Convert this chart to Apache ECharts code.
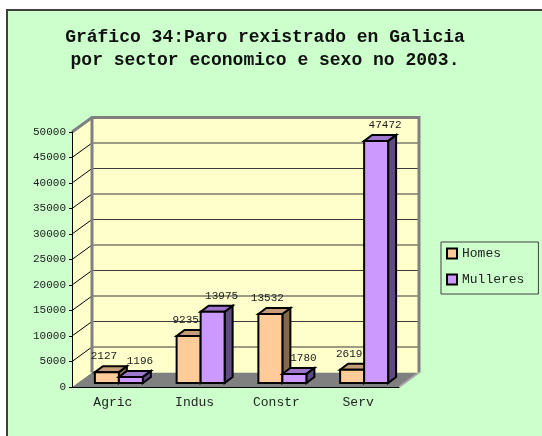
<!DOCTYPE html>
<html>
<head>
<meta charset="utf-8">
<script src="https://cdn.jsdelivr.net/npm/echarts@6/dist/echarts.min.js"></script>
<style>
  html, body { margin: 0; padding: 0; background: #ffffff; }
  #chart { width: 542px; height: 436px; }
</style>
</head>
<body>
<div id="chart"></div>
<script>
// Paro rexistrado en Galicia por sector e sexo, 2003
const categories = ['Agric', 'Indus', 'Constr', 'Serv'];
const homes = [2127, 9235, 13532, 2619];
const mulleres = [1196, 13975, 1780, 47472];
const valueTicks = [0, 5000, 10000, 15000, 20000, 25000, 30000, 35000, 40000, 45000, 50000];

const titleLines = ['Gráfico 34:Paro rexistrado en Galicia', 'por sector economico e sexo no 2003.'];

// oblique 3D look: depth of the box, and where the bars sit inside it
const DEPTH = { dx: 20, dy: -14.5 };
const BAR_FRONT = { dx: 6, dy: -4 };
const BAR_DEPTH = { dx: 8, dy: -6 };
const BAR_W = 24;

const MONO = '"Liberation Mono", "DejaVu Sans Mono", monospace';

const palette = {
  homes: { front: '#FFCC99', top: '#C49E78', side: '#86694C' },
  mulleres: { front: '#CC99FF', top: '#9E76CC', side: '#5F4A82' }
};

function wallsRender(params, api) {
  const cs = params.coordSys;
  const x0 = cs.x, x1 = cs.x + cs.width, yT = cs.y, yB = cs.y + cs.height;
  const dx = DEPTH.dx, dy = DEPTH.dy;
  const kids = [];
  kids.push({ type: 'polygon', shape: { points: [[x0, yB], [x1, yB], [x1 + dx, yB + dy], [x0 + dx, yB + dy]] },
    style: { fill: '#808080' } });
  kids.push({ type: 'line', shape: { x1: x1, y1: yB, x2: x1 + dx, y2: yB + dy },
    style: { stroke: '#A8A8A8', lineWidth: 2 } });
  kids.push({ type: 'polygon', shape: { points: [[x0, yB], [x0, yT], [x0 + dx, yT + dy], [x0 + dx, yB + dy]] },
    style: { fill: '#FFFFCC' } });
  kids.push({ type: 'rect', shape: { x: x0 + dx, y: yT + dy, width: cs.width, height: cs.height },
    style: { fill: '#FFFFCC' } });
  valueTicks.slice(1, -1).forEach(function (v) {
    const y = api.coord([0, v])[1];
    kids.push({ type: 'line', shape: { x1: x0 + dx, y1: y + dy, x2: x1 + dx, y2: y + dy },
      style: { stroke: '#3a3a3a', lineWidth: 1 } });
    kids.push({ type: 'line', shape: { x1: x0, y1: y, x2: x0 + dx, y2: y + dy },
      style: { stroke: '#000000', lineWidth: 1 } });
  });
  kids.push({ type: 'polyline', shape: { points: [[x0, yT], [x0 + dx, yT + dy], [x1 + dx, yT + dy], [x1 + dx, yB + dy]] },
    style: { stroke: '#808080', lineWidth: 3, fill: null } });
  kids.push({ type: 'line', shape: { x1: x0 + dx, y1: yT + dy, x2: x0 + dx, y2: yB + dy },
    style: { stroke: '#808080', lineWidth: 3 } });
  return { type: 'group', children: kids };
}

function barRenderer(colors, slot, labelDx) {
  return function (params, api) {
    const c = api.value(0), v = api.value(1);
    const base = api.coord([c, 0]);
    const top = api.coord([c, v]);
    const left = base[0] + BAR_FRONT.dx + slot * BAR_W;
    const right = left + BAR_W;
    const yb = base[1] + BAR_FRONT.dy;
    const yt = top[1] + BAR_FRONT.dy;
    const ddx = BAR_DEPTH.dx, ddy = BAR_DEPTH.dy;
    const edge = { stroke: '#000000', lineWidth: 2, lineJoin: 'miter' };
    return {
      type: 'group',
      children: [
        { type: 'polygon', shape: { points: [[right, yt], [right + ddx, yt + ddy], [right + ddx, yb + ddy], [right, yb]] },
          style: Object.assign({ fill: colors.side }, edge) },
        { type: 'polygon', shape: { points: [[left, yt], [right, yt], [right + ddx, yt + ddy], [left + ddx, yt + ddy]] },
          style: Object.assign({ fill: colors.top }, edge) },
        { type: 'rect', shape: { x: left, y: yt, width: BAR_W, height: yb - yt },
          style: Object.assign({ fill: colors.front }, edge) },
        { type: 'text', x: left + BAR_W / 2 + labelDx, y: yt - 16,
          style: { text: String(v), font: '11px ' + MONO, fill: '#222222', align: 'center', verticalAlign: 'middle' } }
      ]
    };
  };
}

const chart = echarts.init(document.getElementById('chart'), null, { renderer: 'canvas' });

chart.setOption({
  animation: false,
  backgroundColor: '#ffffff',
  graphic: [
    { type: 'rect', z: -10, shape: { x: 7, y: 10, width: 600, height: 500 },
      style: { fill: '#CCFFCC', stroke: '#404040', lineWidth: 2 } },
    { type: 'text', z: 10, x: 265, y: 26,
      style: { text: titleLines.join('\n'), font: 'bold 18px ' + MONO, lineHeight: 23,
        fill: '#111111', align: 'center', verticalAlign: 'top' } }
  ],
  legend: {
    orient: 'vertical',
    left: 441, top: 242,
    padding: [5, 14, 8, 5],
    itemGap: 13, itemWidth: 10, itemHeight: 10,
    borderColor: '#404040', borderWidth: 1,
    data: [{ name: 'Homes', icon: 'rect' }, { name: 'Mulleres', icon: 'rect' }],
    itemStyle: { borderColor: '#000000', borderWidth: 2 },
    textStyle: { fontFamily: MONO, fontSize: 13, lineHeight: 13, color: '#222222' }
  },
  grid: { left: 72, right: 143, top: 132, bottom: 49, containLabel: false },
  xAxis: {
    type: 'category', data: categories, boundaryGap: true, z: 5,
    axisLine: { lineStyle: { color: '#000000', width: 1 } },
    axisTick: { length: 5, lineStyle: { color: '#000000' } },
    axisLabel: { margin: 9, fontFamily: MONO, fontSize: 13, color: '#222222' },
    splitLine: { show: false }
  },
  yAxis: {
    type: 'value', min: valueTicks[0], max: valueTicks[valueTicks.length - 1],
    interval: valueTicks[1] - valueTicks[0], z: 5,
    axisLine: { show: true, lineStyle: { color: '#000000', width: 1 } },
    axisTick: { show: true, length: 3, lineStyle: { color: '#000000' } },
    axisLabel: { margin: 6, fontFamily: MONO, fontSize: 11, color: '#222222',
      formatter: function (v) { return String(v); } },
    splitLine: { show: false }
  },
  series: [
    { type: 'custom', name: 'walls', z: 1, silent: true, data: [[0, 0]], renderItem: wallsRender },
    { type: 'custom', name: 'Homes', z: 6, color: palette.homes.front,
      itemStyle: { color: palette.homes.front },
      data: homes.map(function (v, i) { return [i, v]; }),
      renderItem: barRenderer(palette.homes, -1, -3) },
    { type: 'custom', name: 'Mulleres', z: 7, color: palette.mulleres.front,
      itemStyle: { color: palette.mulleres.front },
      data: mulleres.map(function (v, i) { return [i, v]; }),
      renderItem: barRenderer(palette.mulleres, 0, 9) }
  ]
});
</script>
</body>
</html>
